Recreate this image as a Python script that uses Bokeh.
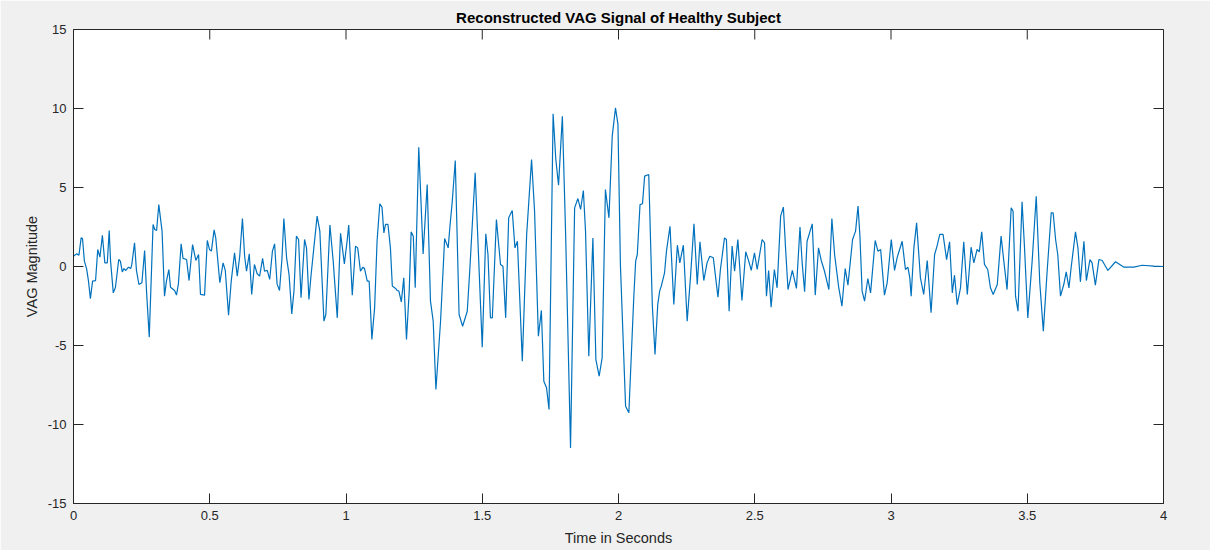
import math
from bokeh.plotting import figure
from bokeh.models import Range1d, FixedTicker
from bokeh.embed import file_html
from bokeh.resources import INLINE

time_s = [
    0.000, 0.011, 0.020, 0.028, 0.033, 0.040, 0.048, 0.055, 0.062, 0.070,
    0.081, 0.089, 0.097, 0.106, 0.115, 0.124, 0.131, 0.136, 0.146, 0.154,
    0.166, 0.172, 0.179, 0.185, 0.192, 0.202, 0.210, 0.214, 0.224, 0.231,
    0.240, 0.251, 0.261, 0.268, 0.278, 0.292, 0.298, 0.305, 0.313, 0.325,
    0.334, 0.341, 0.350, 0.356, 0.371, 0.378, 0.385, 0.395, 0.402, 0.415,
    0.424, 0.437, 0.449, 0.459, 0.466, 0.481, 0.491, 0.499, 0.506, 0.516,
    0.522, 0.537, 0.549, 0.557, 0.569, 0.579, 0.591, 0.601, 0.610, 0.620,
    0.628, 0.635, 0.645, 0.654, 0.664, 0.674, 0.683, 0.694, 0.701, 0.711,
    0.720, 0.730, 0.738, 0.747, 0.756, 0.765, 0.772, 0.782, 0.791, 0.801,
    0.809, 0.818, 0.826, 0.835, 0.848, 0.855, 0.864, 0.872, 0.882, 0.894,
    0.904, 0.919, 0.926, 0.941, 0.953, 0.968, 0.980, 0.994, 1.004, 1.010,
    1.023, 1.035, 1.043, 1.053, 1.062, 1.068, 1.078, 1.085, 1.095, 1.105,
    1.114, 1.124, 1.132, 1.139, 1.145, 1.154, 1.163, 1.170, 1.182, 1.188,
    1.194, 1.203, 1.212, 1.222, 1.232, 1.239, 1.247, 1.254, 1.267, 1.283,
    1.298, 1.310, 1.320, 1.330, 1.347, 1.362, 1.375, 1.381, 1.390, 1.401,
    1.415, 1.428, 1.445, 1.454, 1.474, 1.500, 1.513, 1.521, 1.530, 1.537,
    1.552, 1.567, 1.576, 1.586, 1.597, 1.610, 1.620, 1.629, 1.647, 1.663,
    1.671, 1.681, 1.692, 1.706, 1.717, 1.726, 1.736, 1.745, 1.760, 1.770,
    1.780, 1.794, 1.806, 1.824, 1.839, 1.851, 1.861, 1.871, 1.879, 1.891,
    1.906, 1.917, 1.929, 1.940, 1.952, 1.965, 1.977, 1.989, 1.998, 2.007,
    2.026, 2.038, 2.056, 2.063, 2.069, 2.079, 2.088, 2.096, 2.111, 2.124,
    2.134, 2.144, 2.151, 2.157, 2.169, 2.176, 2.189, 2.203, 2.216, 2.225,
    2.238, 2.252, 2.264, 2.277, 2.289, 2.299, 2.313, 2.325, 2.335, 2.348,
    2.365, 2.374, 2.389, 2.396, 2.406, 2.417, 2.426, 2.438, 2.453, 2.467,
    2.478, 2.487, 2.499, 2.509, 2.527, 2.536, 2.543, 2.551, 2.560, 2.572,
    2.582, 2.595, 2.605, 2.613, 2.622, 2.638, 2.653, 2.666, 2.674, 2.683,
    2.692, 2.711, 2.722, 2.734, 2.744, 2.756, 2.772, 2.783, 2.793, 2.808,
    2.820, 2.832, 2.842, 2.859, 2.870, 2.879, 2.886, 2.894, 2.903, 2.915,
    2.925, 2.942, 2.952, 2.962, 2.976, 2.986, 3.001, 3.013, 3.023, 3.041,
    3.053, 3.062, 3.069, 3.074, 3.084, 3.094, 3.108, 3.120, 3.133, 3.147,
    3.160, 3.169, 3.179, 3.191, 3.204, 3.215, 3.225, 3.233, 3.243, 3.255,
    3.267, 3.280, 3.294, 3.304, 3.316, 3.324, 3.333, 3.343, 3.355, 3.365,
    3.375, 3.390, 3.404, 3.414, 3.426, 3.441, 3.448, 3.457, 3.466, 3.481,
    3.490, 3.502, 3.518, 3.533, 3.546, 3.559, 3.573, 3.588, 3.595, 3.604,
    3.612, 3.622, 3.634, 3.643, 3.653, 3.661, 3.677, 3.686, 3.695, 3.708,
    3.717, 3.730, 3.738, 3.750, 3.763, 3.775, 3.796, 3.824, 3.855, 3.891,
    3.922, 3.965, 4.000,
]

vag_magnitude = [
    0.65, 0.80, 0.72, 1.81, 1.77, 0.34, -0.13, -0.93, -2.03, -0.93,
    -0.89, 1.08, 0.59, 1.98, 0.23, 0.23, 2.28, 0.34, -1.67, -1.31,
    0.44, 0.34, -0.34, -0.13, -0.25, -0.04, -0.13, 0.13, 1.50, -0.25,
    -1.14, -1.03, 1.01, -1.56, -4.47, 2.66, 2.34, 2.28, 3.92, 2.24,
    -1.88, -0.93, -0.19, -1.31, -1.52, -1.81, -1.10, 1.43, 0.51, 0.44,
    -0.89, 1.39, 0.38, 0.76, -1.77, -1.81, 1.65, 1.08, 0.97, 2.32,
    1.81, -1.03, 0.23, -0.25, -3.08, -0.89, 0.86, -0.61, 0.65, 3.04,
    0.65, -0.30, 0.80, -1.77, 0.13, -0.46, -0.61, 0.51, -0.30, -0.25,
    -0.82, 0.97, 1.43, -1.10, -1.52, 0.51, 3.04, 0.55, -0.51, -3.00,
    -1.56, 1.92, 1.71, -1.98, 1.71, 1.18, -2.09, -0.51, 1.18, 3.19,
    2.24, -3.46, -3.04, 2.62, 0.34, -3.25, 2.10, 0.17, 1.60, 2.62,
    -1.82, 1.29, 1.18, -0.30, -0.04, -0.13, -0.93, -0.93, -4.62, -2.62,
    1.60, 3.97, 3.76, 2.13, 2.66, 2.66, 1.18, -1.24, -1.39, -1.52,
    -1.56, -2.24, -0.72, -4.62, -1.56, 2.19, 1.92, -1.35, 7.55, 0.80,
    5.19, -2.19, -3.46, -7.78, -3.46, 1.77, 1.18, 2.45, 4.14, 6.71,
    -3.04, -3.78, -2.83, -0.30, 5.93, -5.11, 2.07, 0.76, -3.25, -3.25,
    2.97, 0.13, 0.02, -3.25, 3.08, 3.54, 1.18, 1.60, -5.99, 2.03,
    4.14, 6.77, 3.50, -4.41, -2.78, -7.26, -7.68, -9.05, 9.66, 6.77,
    5.15, 9.51, 2.03, -11.48, 3.71, 4.30, 3.61, 4.81, 2.24, -5.68,
    1.81, -5.89, -6.94, -5.78, 4.87, 3.08, 8.25, 10.04, 8.99, 0.13,
    -8.84, -9.26, -1.98, 0.34, 0.76, 3.92, 3.97, 5.72, 5.82, -2.41,
    -5.57, -2.41, -1.56, -1.24, -0.40, 0.97, 2.55, -2.41, 1.35, 0.23,
    1.35, -3.46, -0.72, 2.70, -1.14, 1.56, -0.89, 0.23, 0.65, 0.55,
    -1.94, -0.19, 1.81, 1.71, -2.83, 1.29, -0.30, 1.71, -2.15, 0.93,
    0.34, -0.25, 0.86, -0.19, 1.71, 1.50, -1.88, -0.25, -2.57, -0.19,
    -1.35, 3.19, 3.76, 1.18, -1.46, -0.25, -1.39, 2.49, 0.23, -1.60,
    1.60, 2.70, -1.81, 1.18, 0.38, -0.30, -1.46, 3.04, 0.76, -1.31,
    -2.51, -0.13, -1.18, 1.71, 2.24, 3.82, 1.92, -1.56, -2.19, -0.76,
    -1.67, 1.65, 0.97, 1.08, -1.81, -1.03, 1.71, -0.25, 0.59, 1.60,
    -0.19, -0.04, -0.72, -1.88, 1.18, 2.76, -0.72, -1.77, 0.38, -2.93,
    0.76, 1.29, 2.03, 2.03, 0.44, 1.56, -1.67, -0.55, -2.41, -1.35,
    1.56, -1.77, 1.22, 0.23, 1.08, 0.93, 2.19, 0.13, -0.19, -1.35,
    -1.77, -1.14, 1.92, 0.34, -1.46, 3.71, 3.50, -1.88, -2.83, 4.09,
    1.18, -3.25, 0.34, 4.45, -1.03, -4.09, -0.30, 3.40, 3.40, 1.71,
    0.76, -1.88, -1.14, -0.34, -1.35, -0.08, 2.19, 1.18, -0.97, 1.60,
    -0.89, 0.44, 0.23, -1.18, 0.44, 0.38, -0.25, 0.30, -0.04, -0.04,
    0.08, 0.02, 0.00,
]

x_ticks = [0, 0.5, 1, 1.5, 2, 2.5, 3, 3.5, 4]
x_tick_labels = ["0", "0.5", "1", "1.5", "2", "2.5", "3", "3.5", "4"]
y_ticks = [-15, -10, -5, 0, 5, 10, 15]
y_tick_labels = ["-15", "-10", "-5", "0", "5", "10", "15"]
x_min, x_max = 0, 4
y_min, y_max = -15, 15

title_text = "Reconstructed VAG Signal of Healthy Subject"
x_label = "Time in Seconds"
y_label = "VAG Magnitude"

FONT = "Liberation Sans"
AX = "#262626"
BG = "#f0f0f0"

p = figure(
    frame_width=1090, frame_height=474,
    min_border_left=73, min_border_right=47, min_border_top=29, min_border_bottom=47,
    x_range=Range1d(x_min, x_max), y_range=Range1d(y_min, y_max),
    output_backend="svg", toolbar_location=None,
    background_fill_color="white", border_fill_color=BG,
)

p.title.text = title_text
p.title.align = "center"
p.title.text_font = FONT
p.title.text_font_size = "15px"
p.title.text_font_style = "bold"
p.title.text_color = "#000000"
p.title.standoff = 8

p.grid.visible = False
p.outline_line_color = AX
p.outline_line_width = 1

def style_axis(ax, ticks, labels):
    ax.ticker = FixedTicker(ticks=ticks)
    ax.major_label_overrides = {t: l for t, l in zip(ticks, labels)}
    ax.major_tick_in = 10
    ax.major_tick_out = 0
    ax.minor_tick_in = 0
    ax.minor_tick_out = 0
    ax.axis_line_color = AX
    ax.major_tick_line_color = AX
    ax.major_label_text_font = FONT
    ax.major_label_text_color = AX
    ax.major_label_text_font_size = "13px"
    ax.major_label_standoff = 7
    ax.axis_label_text_font = FONT
    ax.axis_label_text_font_size = "14.5px"
    ax.axis_label_text_font_style = "normal"
    ax.axis_label_text_color = AX

style_axis(p.xaxis[0], x_ticks, x_tick_labels)
style_axis(p.yaxis[0], y_ticks, y_tick_labels)
p.xaxis[0].axis_label = x_label
p.yaxis[0].axis_label = y_label
p.xaxis[0].axis_label_standoff = 7
p.yaxis[0].axis_label_standoff = 5

# mirrored inward ticks on the top and right edges of the box
p.ray(x=x_ticks, y=[y_max] * len(x_ticks), length=10, length_units="screen",
      angle=-math.pi / 2, line_color=AX, line_width=1)
p.ray(x=[x_max] * len(y_ticks), y=y_ticks, length=10, length_units="screen",
      angle=math.pi, line_color=AX, line_width=1)

p.line(time_s, vag_magnitude, line_color="#0072BD", line_width=1.2)

open("out.html", "w").write(file_html(p, INLINE))
